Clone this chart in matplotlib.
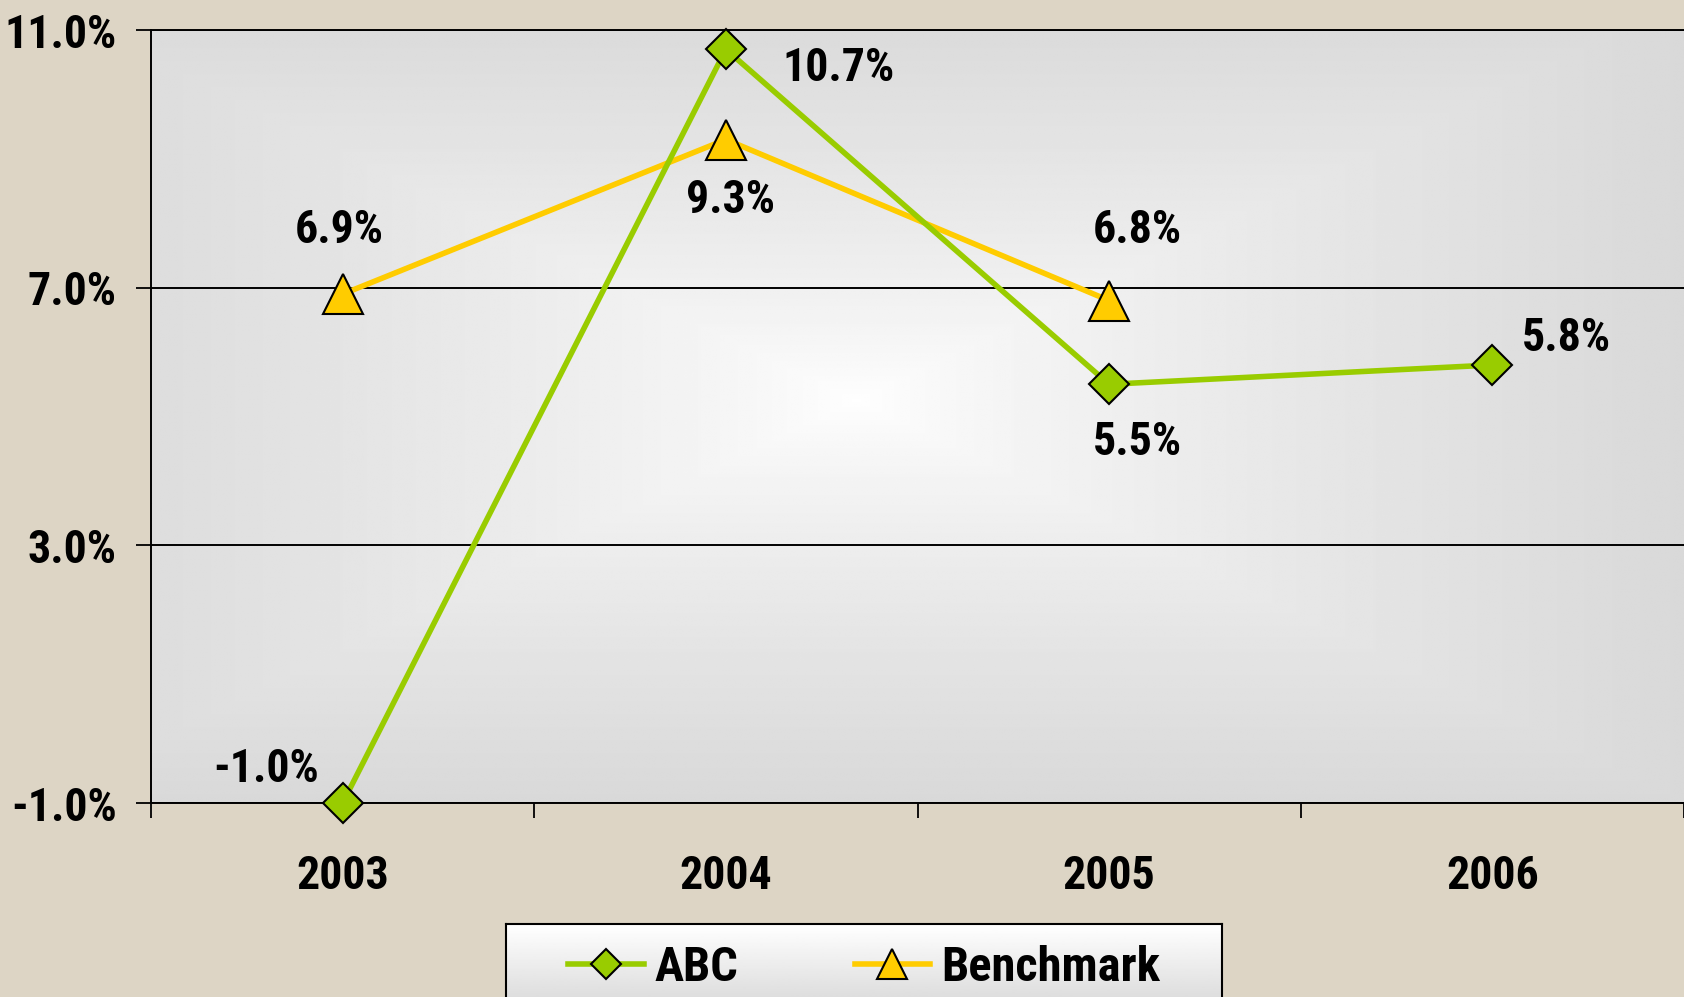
import numpy as np
import matplotlib
matplotlib.use('Agg')
import matplotlib.pyplot as plt

# data
years = ['2003', '2004', '2005', '2006']
abc = [-1.0, 10.7, 5.5, 5.8]
bench = [6.9, 9.3, 6.8, np.nan]
y_ticks = [-1.0, 3.0, 7.0, 11.0]

# where each value label sits relative to its point (pixels)
abc_offsets = [(-77, 34), (113, -19), (28, -58), (74, 27)]
bench_offsets = [(-3, 64), (5, -60), (28, 71)]

green = '#99CC00'
yellow = '#FFCC00'
fs = 33

plt.rcParams['font.family'] = ['Roboto Condensed', 'DejaVu Sans']
plt.rcParams['font.stretch'] = 'condensed'
plt.rcParams['font.weight'] = 'bold'

W, H = 1684, 997
fig = plt.figure(figsize=(W / 100, H / 100), dpi=100, facecolor='#DDD5C5')
ax = fig.add_axes([151 / W, 194 / H, 1 - 151 / W, (803 - 30) / H])

# plot area: light grey with a whitish centre
gx, gy = np.meshgrid(np.linspace(0, 1, 500), np.linspace(0, 1, 300))
d = np.maximum(np.abs(gx - 0.46) / 0.54, np.abs(gy - 0.48) / 0.52)
shade = 1.0 - 0.15 * d ** 0.75
ax.imshow(shade, cmap='gray', vmin=0, vmax=1, extent=[0, 1, 0, 1],
          transform=ax.transAxes, aspect='auto', zorder=0, interpolation='bilinear')

x = np.arange(len(years))
l1, = ax.plot(x, abc, color=green, lw=4, marker='D', ms=20, mfc=green,
              mec='black', mew=1.5, zorder=4, clip_on=False, label='ABC')
l2, = ax.plot(x, bench, color=yellow, lw=4, marker='^', ms=29, mfc=yellow,
              mec='black', mew=1.5, zorder=3, clip_on=False, label='Benchmark')

for i, v in enumerate(abc):
    ax.annotate(f'{v:.1f}%', (x[i], v), xytext=abc_offsets[i], textcoords='offset pixels',
                ha='center', va='center', fontsize=fs, fontweight='bold', zorder=5)
for i, v in enumerate(bench[:3]):
    ax.annotate(f'{v:.1f}%', (x[i], v), xytext=bench_offsets[i], textcoords='offset pixels',
                ha='center', va='center', fontsize=fs, fontweight='bold', zorder=5)

ax.set_xlim(-0.5, 3.5)
ax.set_ylim(-1, 11)
ax.set_yticks(y_ticks)
ax.set_yticklabels([f'{t:.1f}%' for t in y_ticks])
ax.set_xticks(x)
ax.set_xticklabels(years)
ax.set_xticks(np.arange(-0.5, 4, 1), minor=True)
ax.tick_params(axis='y', length=10.8, width=1.3, pad=14, labelsize=fs, direction='out')
ax.tick_params(axis='x', which='major', length=0, pad=37, labelsize=fs)
ax.tick_params(axis='x', which='minor', length=10.8, width=1.3, direction='out')
ax.grid(axis='y', color='black', lw=1.4, zorder=1)
ax.set_axisbelow(True)
ax.spines['right'].set_visible(False)
for s in ['left', 'bottom', 'top']:
    ax.spines[s].set_linewidth(1.4)
    ax.spines[s].set_zorder(2)

# legend box with a vertical white-to-grey fill
lax = fig.add_axes([506 / W, -0.05, (1222 - 506) / W, (997 - 924) / H + 0.05])
grad = np.linspace(0.78, 1.0, 100).reshape(-1, 1)
lax.imshow(grad, cmap='gray', vmin=0, vmax=1, extent=[0, 1, 0, 1], aspect='auto',
           origin='lower', interpolation='bilinear')
lax.set_xlim(0, 1)
lax.set_ylim(0, 1)
lax.set_xticks([])
lax.set_yticks([])
for s in lax.spines.values():
    s.set_linewidth(1.5)
lax.legend(handles=[l1, l2], loc='center', bbox_to_anchor=(0.5, 0.64), ncol=2,
           frameon=False, fontsize=35, markerscale=0.75, handlelength=1.55,
           handletextpad=0.22, columnspacing=2.4)

fig.savefig('out.png', dpi=100, facecolor=fig.get_facecolor())
